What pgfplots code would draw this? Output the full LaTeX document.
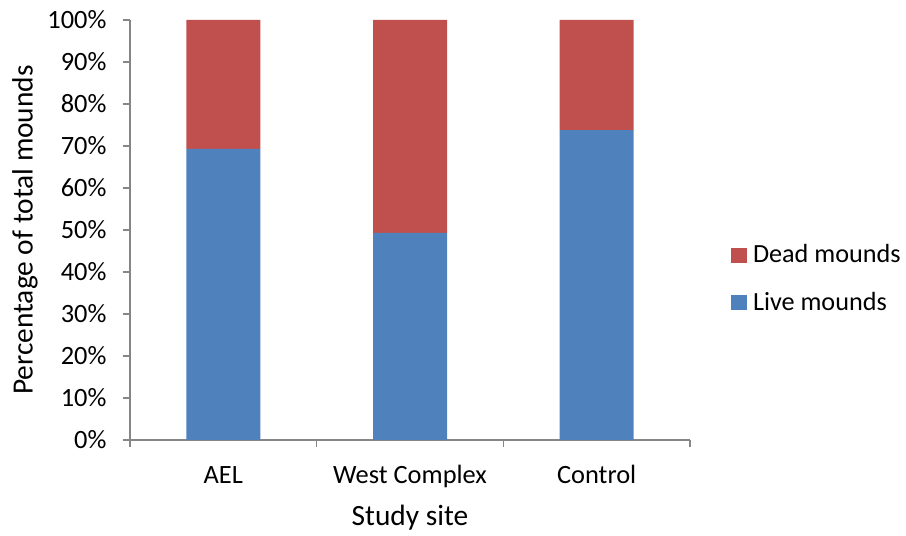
\documentclass[border=0pt]{standalone}
\usepackage{pgfplots}
\pgfplotsset{compat=1.18}
\usepackage{fontspec}
\setmainfont{Carlito}
\definecolor{live}{HTML}{4F81BD}
\definecolor{dead}{HTML}{C0504D}
\definecolor{axgray}{HTML}{868686}

\begin{document}
\begin{tikzpicture}[x=1bp,y=1bp]
\useasboundingbox (0,0) rectangle (906,536);
\begin{axis}[
  at={(130bp,96bp)}, anchor=south west,
  scale only axis, width=560bp, height=420bp,
  xmin=-0.5, xmax=2.5, ymin=0, ymax=100,
  ybar stacked, bar width=74bp,
  axis x line*=bottom, axis y line*=left,
  axis line style={axgray, line width=1.1pt},
  ytick={0,10,...,100},
  yticklabels={0\%,10\%,20\%,30\%,40\%,50\%,60\%,70\%,80\%,90\%,100\%},
  xtick={0,1,2}, xticklabels={AEL, West Complex, Control},
  minor xtick={-0.5,0.5,1.5,2.5},
  major x tick style={draw=none},
  tick align=outside, major tick length=7bp, minor tick length=7bp,
  every tick/.style={axgray, line width=1.1pt},
  tick label style={font=\fontsize{26.5}{30}\selectfont, text=black},
  yticklabel style={anchor=east, xshift=-13bp},
  xticklabel style={anchor=base, yshift=-37bp},
  xlabel={Study site},
  xlabel style={font=\fontsize{29.5}{33}\selectfont, at={(axis description cs:0.5,-0.185)}, anchor=center},
  ylabel={Percentage of total mounds},
  ylabel style={font=\fontsize{29.5}{33}\selectfont, at={(axis description cs:-0.1875,0.5)}, anchor=center},
  reverse legend,
  legend style={draw=none, fill=none, inner sep=0pt, outer sep=0pt,
    at={(axis description cs:1.0732,0.385)}, anchor=west,
    font=\fontsize{26.3}{30}\selectfont,
    nodes={inner sep=0pt, anchor=base west},
    column sep=6bp, row sep=28bp},
  legend image code/.code={\fill[#1] (0bp,0bp) rectangle (16bp,15bp);},
]
\addplot+[draw=none, fill=live] coordinates {(0,69.3) (1,49.3) (2,73.8)};
\addlegendentry{Live mounds}
\addplot+[draw=none, fill=dead] coordinates {(0,30.7) (1,50.7) (2,26.2)};
\addlegendentry{Dead mounds}
\end{axis}
\end{tikzpicture}
\end{document}
